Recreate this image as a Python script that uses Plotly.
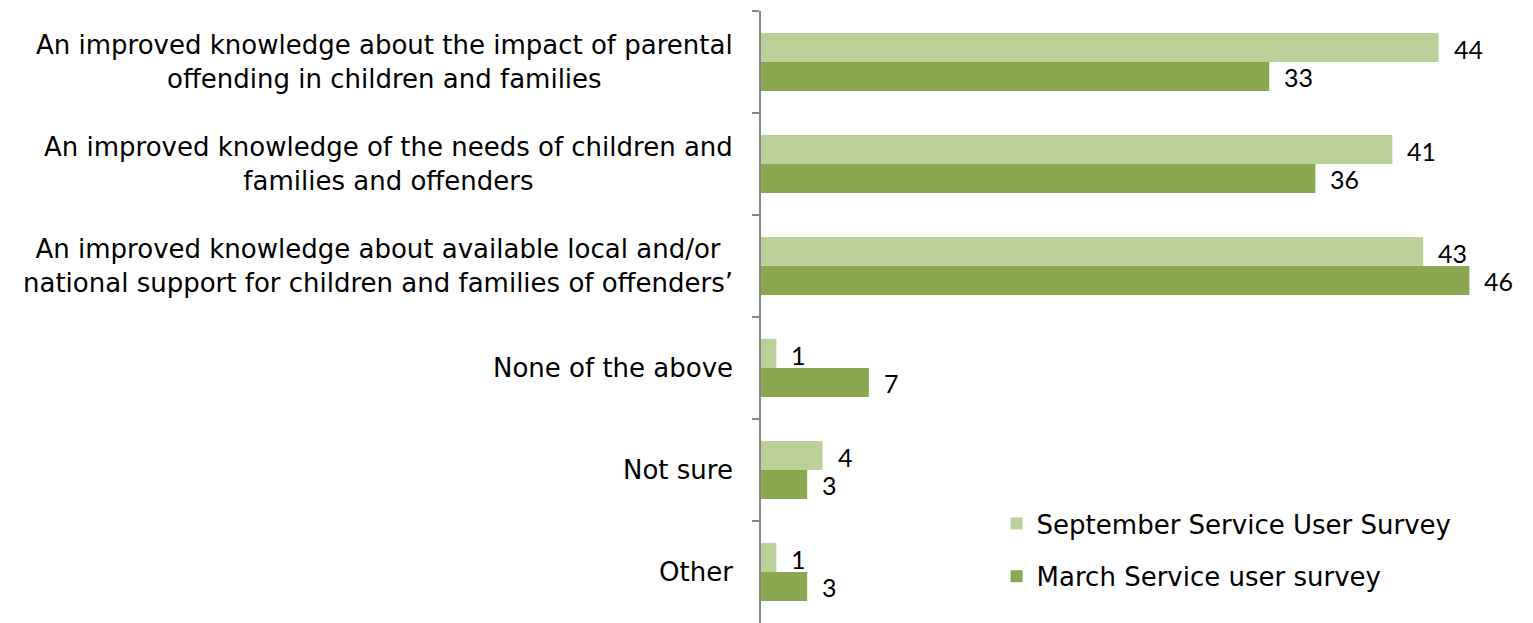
import plotly.graph_objects as go

categories = [
    "An improved knowledge about the impact of parental<br>offending in children and families",
    "An improved knowledge of the needs of children and<br>families and offenders",
    "An improved knowledge about available local and/or<br>national support for children and families of offenders’",
    "None of the above",
    "Not sure",
    "Other",
]
september = [44, 41, 43, 1, 4, 1]
march = [33, 36, 46, 7, 3, 3]
series_names = ["September Service User Survey", "March Service user survey"]
colors = ["#BBCF99", "#8BA74F"]

label_font = dict(family="DejaVu Sans", size=26, color="#000000")
value_font = dict(family="Lato", size=25, color="#000000")

fig = go.Figure()
for name, vals, col, grp in zip(series_names, [september, march], colors, ["a", "b"]):
    fig.add_trace(go.Bar(
        y=categories, x=vals, name=name, orientation="h",
        marker=dict(color=col, line=dict(width=0)),
        legendgroup=grp,
    ))

# value labels to the right of each bar
for vals, off in [(september, -0.142), (march, 0.142)]:
    for i, v in enumerate(vals):
        fig.add_annotation(
            x=v, y=i + off, xref="x", yref="y", text=str(v),
            showarrow=False, xanchor="left", yanchor="middle",
            xshift=13, yshift=-1, font=value_font,
        )

# category labels, centred line by line, right-edged next to the axis
for i, c in enumerate(categories):
    fig.add_annotation(
        x=0, y=i, xref="paper", yref="y", text=c, showarrow=False,
        xanchor="right", yanchor="middle", align="center",
        xshift=-26, font=label_font,
    )

fig.update_layout(
    width=1533, height=623,
    margin=dict(l=761, r=2, t=11, b=0),
    paper_bgcolor="white", plot_bgcolor="white",
    barmode="group", bargap=0.43, bargroupgap=0,
    showlegend=True,
    legend=dict(
        x=0.306, y=0.201, xanchor="left", yanchor="top",
        font=label_font, bgcolor="rgba(0,0,0,0)",
        traceorder="grouped", tracegroupgap=16,
        itemwidth=30,
    ),
    xaxis=dict(range=[0, 50], showgrid=False, zeroline=False,
               showticklabels=False, showline=False, ticks=""),
    yaxis=dict(
        type="category", autorange="reversed", showgrid=False,
        showline=True, linecolor="#868686", linewidth=1.5,
        ticks="outside", tickson="boundaries", ticklen=7,
        tickcolor="#868686", tickwidth=1.5,
        showticklabels=False,
    ),
)

fig.write_html("out.html")
